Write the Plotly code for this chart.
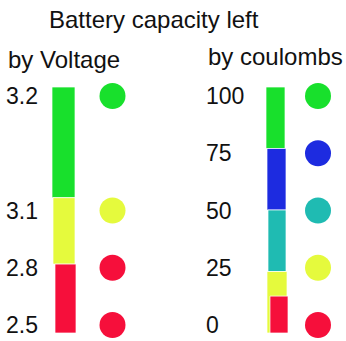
import plotly.graph_objects as go

GREEN = "#18E02C"
YELLOW = "#E5FA3D"
RED = "#F60F3B"
BLUE = "#1D2BE0"
TEAL = "#1FBBB2"

# ---- data ----
title_text = "Battery capacity left"
voltage_title = "by Voltage"
coulomb_title = "by coulombs"

# capacity levels (percent) and the labels printed beside them
voltage_levels = [100, 50, 25, 0]
voltage_labels = ["3.2", "3.1", "2.8", "2.5"]
coulomb_levels = [100, 75, 50, 25, 0]
coulomb_labels = ["100", "75", "50", "25", "0"]

# status dot for each level
voltage_dot_colors = [GREEN, YELLOW, RED, RED]
coulomb_dot_colors = [GREEN, BLUE, TEAL, YELLOW, RED]

# stacked bar segments, bottom/top in percent
voltage_seg_bottom = [55, 28, 0]
voltage_seg_top = [100, 55, 28]
voltage_seg_colors = [GREEN, YELLOW, RED]
coulomb_seg_bottom = [75, 50, 25, 0, 0]
coulomb_seg_top = [100, 75, 50, 25, 15]
coulomb_seg_colors = [GREEN, BLUE, TEAL, YELLOW, RED]

# ---- layout geometry (pixels) ----
W, H = 346, 341
FONT = "Liberation Sans, Arial, sans-serif"

# x scale of each panel: pixel of the bar column and px per unit
L_BAR_PX, L_UNIT = 63.5, 49.0
R_BAR_PX, R_UNIT = 277.0, 41.0
# hand-drawn look: left edge / width of every segment in px
l_seg_left = [52, 53, 55]
l_seg_width = [23, 22, 21]
r_seg_left = [266, 267, 268, 267, 270]
r_seg_width = [19, 19, 18, 20, 18]

# label scale: 100 -> 97px, 0 -> 325px ; bar scale: 100 -> 87px, 0 -> 333px
def y_range(px_top_val, px_zero):
    k = (px_zero - px_top_val) / 100.0
    top = 100 + px_top_val / k
    return [top - H / k, top]

label_range = y_range(96, 325)
bar_range = y_range(87, 333)

fig = go.Figure()


def add_bars(bottoms, tops, colors, lefts, widths, bar_px, unit, xa, ya):
    for b, t, c, lp, wp in zip(bottoms, tops, colors, lefts, widths):
        fig.add_trace(go.Bar(
            x=[0], y=[t - b], base=[b],
            offset=(lp - bar_px) / unit, width=wp / unit,
            marker=dict(color=c, line=dict(color="rgba(255,255,255,0.7)", width=1)),
            xaxis=xa, yaxis=ya, hoverinfo="skip", showlegend=False,
        ))


def add_dots(levels, colors, xa, ya):
    fig.add_trace(go.Scatter(
        x=[1] * len(levels), y=levels, mode="markers",
        marker=dict(size=26, color=colors, line=dict(width=0)),
        xaxis=xa, yaxis=ya, hoverinfo="skip", showlegend=False,
    ))


add_bars(voltage_seg_bottom, voltage_seg_top, voltage_seg_colors,
         l_seg_left, l_seg_width, L_BAR_PX, L_UNIT, "x", "y2")
add_dots(voltage_levels, voltage_dot_colors, "x", "y")
add_bars(coulomb_seg_bottom, coulomb_seg_top, coulomb_seg_colors,
         r_seg_left, r_seg_width, R_BAR_PX, R_UNIT, "x2", "y4")
add_dots(coulomb_levels, coulomb_dot_colors, "x2", "y3")

hidden = dict(showgrid=False, zeroline=False, showline=False, showticklabels=False, ticks="")
tick_font = dict(family=FONT, size=23, color="#111111")
head_font = dict(family=FONT, size=24, color="#111111")

fig.update_layout(
    width=W, height=H,
    margin=dict(l=0, r=0, t=0, b=0),
    paper_bgcolor="white", plot_bgcolor="rgba(0,0,0,0)",
    barmode="overlay", showlegend=False,
    xaxis=dict(domain=[0, 0.5], range=[-L_BAR_PX / L_UNIT, (W / 2 - L_BAR_PX) / L_UNIT], **hidden),
    xaxis2=dict(domain=[0.5, 1], range=[-(R_BAR_PX - W / 2) / R_UNIT, (W - R_BAR_PX) / R_UNIT], **hidden),
    yaxis=dict(range=label_range, anchor="free", position=5 / W, side="right",
               tickmode="array", tickvals=voltage_levels, ticktext=voltage_labels,
               showgrid=False, zeroline=False, showline=False, ticks="",
               ticklabelstandoff=0, tickfont=tick_font),
    yaxis2=dict(range=bar_range, overlaying="y", anchor="x", visible=False),
    yaxis3=dict(range=label_range, anchor="free", position=205 / W, side="right",
                tickmode="array", tickvals=coulomb_levels, ticktext=coulomb_labels,
                showgrid=False, zeroline=False, showline=False, ticks="",
                ticklabelstandoff=0, tickfont=tick_font),
    yaxis4=dict(range=bar_range, overlaying="y3", anchor="x2", visible=False),
    annotations=[
        dict(text=title_text, x=153.5 / W, y=1 - 20 / H, xref="paper", yref="paper",
             xanchor="center", yanchor="middle", showarrow=False, font=head_font),
        dict(text=voltage_title, x=6 / W, y=1 - 59 / H, xref="paper", yref="paper",
             xanchor="left", yanchor="middle", showarrow=False, font=head_font),
        dict(text=coulomb_title, x=206 / W, y=1 - 57 / H, xref="paper", yref="paper",
             xanchor="left", yanchor="middle", showarrow=False, font=head_font),
    ],
)

fig.write_html("out.html")
